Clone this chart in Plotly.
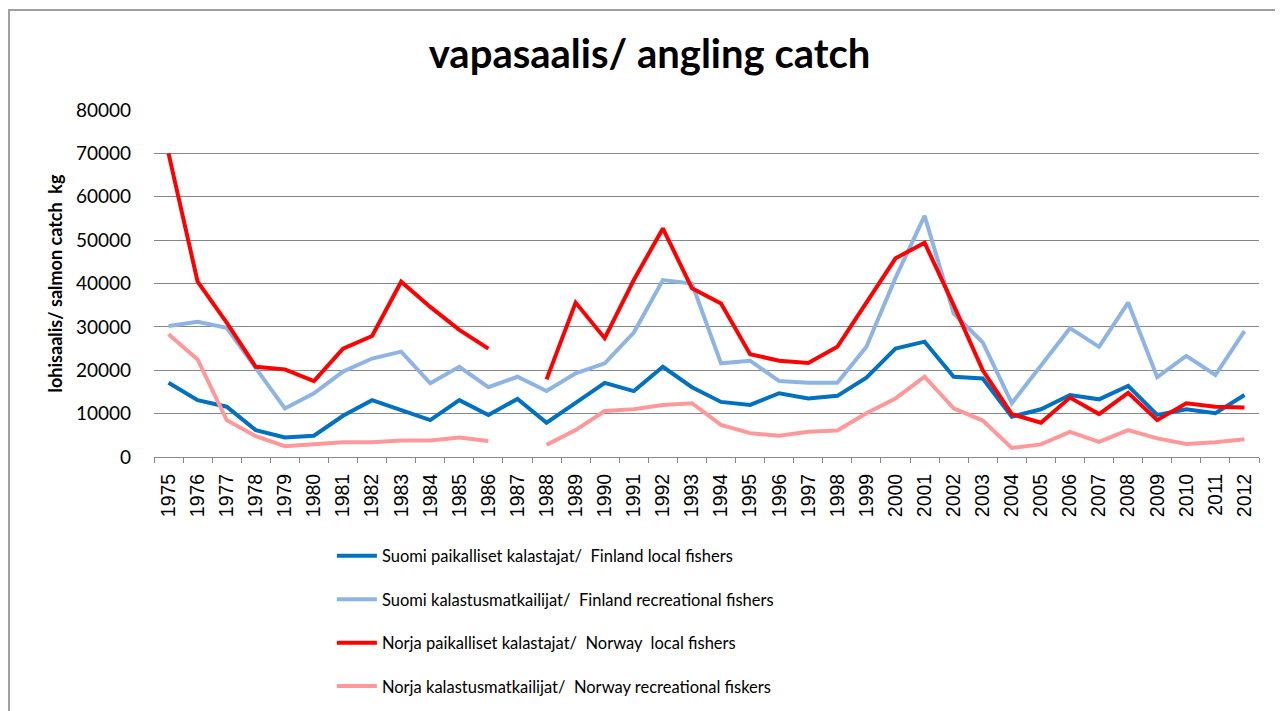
import plotly.graph_objects as go

years = [str(y) for y in range(1975, 2013)]

# Suomi paikalliset kalastajat / Finland local fishers
fin_local = [17100, 13100, 11600, 6200, 4500, 4900, 9500, 13100, 10800, 8500,
             13100, 9700, 13400, 7900, 12500, 17100, 15200, 20800, 16100, 12700,
             12000, 14700, 13500, 14100, 18300, 25000, 26600, 18500, 18100, 9300,
             11000, 14300, 13300, 16400, 9700, 11000, 10100, 14300]

# Suomi kalastusmatkailijat / Finland recreational fishers
fin_rec = [30200, 31200, 29800, 20400, 11200, 14700, 19700, 22700, 24300, 17000,
           20800, 16100, 18500, 15200, 19300, 21600, 28700, 40800, 40000, 21600,
           22200, 17500, 17100, 17100, 25400, 41300, 55600, 33100, 26400, 12400,
           21200, 29700, 25400, 35600, 18400, 23300, 18900, 29000]

# Norja paikalliset kalastajat / Norway local fishers
nor_local = [70000, 40400, 31000, 20800, 20200, 17500, 25000, 27900, 40400, 34600,
             29300, 25000, None, 17900, 35600, 27400, 40800, 52700, 38900, 35400,
             23700, 22200, 21700, 25400, 35400, 45800, 49400, 35000, 20000, 9900,
             7900, 13700, 9900, 14800, 8500, 12400, 11600, 11400]

# Norja kalastusmatkailijat / Norway recreational fiskers
nor_rec = [28300, 22500, 8500, 4800, 2500, 2900, 3400, 3400, 3800, 3800,
           4500, 3700, None, 2800, 6200, 10600, 11000, 12000, 12400, 7400,
           5500, 4900, 5800, 6100, 10100, 13500, 18500, 11200, 8400, 2100,
           2900, 5800, 3500, 6200, 4300, 3000, 3400, 4100]

series = [
    ("Suomi paikalliset kalastajat/  Finland local fishers", fin_local, "#0070C0"),
    ("Suomi kalastusmatkailijat/  Finland recreational fishers", fin_rec, "#8DB4E2"),
    ("Norja paikalliset kalastajat/  Norway  local fishers", nor_local, "#FF0000"),
    ("Norja kalastusmatkailijat/  Norway recreational fiskers", nor_rec, "#FF9999"),
]

fig = go.Figure()
for i, (name, vals, col) in enumerate(series):
    fig.add_trace(go.Scatter(
        x=years, y=vals, name=name, mode="lines",
        line=dict(color=col, width=4),
        connectgaps=False, legendgroup=str(i),
    ))

fig.update_layout(
    width=1283, height=711,
    paper_bgcolor="white", plot_bgcolor="white",
    margin=dict(l=146, r=32, t=102, b=262, autoexpand=False),
    title=dict(text="<b>vapasaalis/ angling catch</b>", x=0.5, xanchor="center",
               y=0.935, yanchor="middle",
               font=dict(family="Lato", size=40, color="black")),
    font=dict(family="Lato", color="black"),
    showlegend=True,
    legend=dict(x=0.161, y=-0.235, xanchor="left", yanchor="top",
                font=dict(family="Lato", size=16.5, color="black"),
                tracegroupgap=19, itemwidth=40, bgcolor="rgba(0,0,0,0)"),
    xaxis=dict(type="category", range=[-0.5, 37.5], tickangle=-90,
               automargin=False,
               showgrid=False, showline=True, linecolor="#868686", linewidth=1,
               ticks="outside", tickson="boundaries", ticklen=5,
               tickcolor="#868686", ticklabelstandoff=8,
               tickfont=dict(family="Liberation Sans", size=19.5, color="black")),
    yaxis=dict(range=[0, 80000], dtick=10000, tickformat="d", showgrid=True,
               automargin=False,
               gridcolor="#868686", gridwidth=1, zeroline=False,
               showline=False, ticks="",
               tickfont=dict(family="Lato", size=19, color="black"),
               ticklabelstandoff=22,
               title=dict(text="<b>lohisaalis/ salmon catch  kg</b>",
                          font=dict(family="Lato", size=18, color="black"),
                          standoff=8)),
    shapes=[dict(type="rect", xref="paper", yref="paper",
                 x0=-0.1312, x1=1.06, y0=-0.8, y1=1.288,
                 line=dict(color="#A0A0A0", width=2), layer="below")],
)

fig.write_html("out.html")
